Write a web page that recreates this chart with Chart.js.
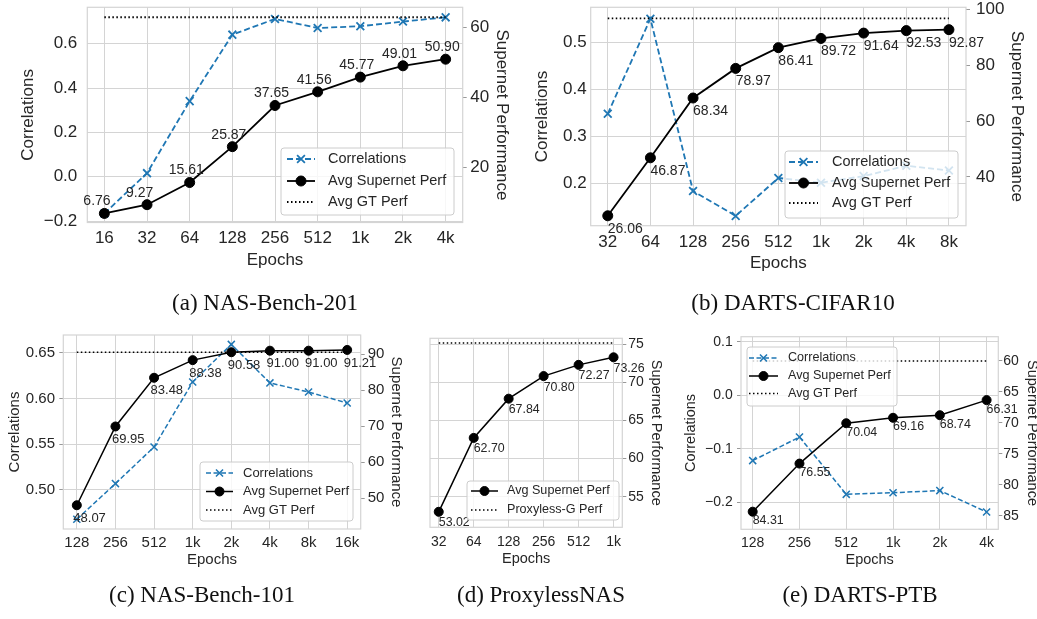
<!DOCTYPE html>
<html>
<head>
<meta charset="utf-8">
<script src="https://cdn.jsdelivr.net/npm/chart.js@4/dist/chart.umd.min.js"></script>
<style>
body { margin: 0; background: #fff; width: 1037px; height: 619px; position: relative; overflow: hidden; }
canvas { position: absolute; left: 0; top: 0; }
.cap { position: absolute; font-family: "Liberation Serif", "Times New Roman", serif; font-size: 23px; color: #111;
       transform: translate(-50%, -50%); white-space: nowrap; }
</style>
</head>
<body>
<canvas id="cA" width="1037" height="619"></canvas>
<canvas id="cB" width="1037" height="619"></canvas>
<canvas id="cC" width="1037" height="619"></canvas>
<canvas id="cD" width="1037" height="619"></canvas>
<canvas id="cE" width="1037" height="619"></canvas>
<div class="cap" style="left:265px;top:303px">(a) NAS-Bench-201</div>
<div class="cap" style="left:793px;top:303px">(b) DARTS-CIFAR10</div>
<div class="cap" style="left:202px;top:595px">(c) NAS-Bench-101</div>
<div class="cap" style="left:541px;top:595px">(d) ProxylessNAS</div>
<div class="cap" style="left:860px;top:595px">(e) DARTS-PTB</div>
<script>
// (a) NAS-Bench-201
const epochsA = ['16', '32', '64', '128', '256', '512', '1k', '2k', '4k'];
const corrA = [-0.166, 0.016, 0.341, 0.641, 0.712, 0.671, 0.679, 0.700, 0.719];
const perfA = [6.76, 9.27, 15.61, 25.87, 37.65, 41.56, 45.77, 49.01, 50.90];
const gtA = 62.9;
const corrTicksA = [-0.2, 0, 0.2, 0.4, 0.6];
const perfTicksA = [20, 40, 60];

// (b) DARTS-CIFAR10
const epochsB = ['32', '64', '128', '256', '512', '1k', '2k', '4k', '8k'];
const corrB = [0.348, 0.551, 0.183, 0.130, 0.211, 0.201, 0.215, 0.237, 0.227];
const perfB = [26.06, 46.87, 68.34, 78.97, 86.41, 89.72, 91.64, 92.53, 92.87];
const gtB = 96.9;
const corrTicksB = [0.2, 0.3, 0.4, 0.5];
const perfTicksB = [40, 60, 80, 100];

// (c) NAS-Bench-101
const epochsC = ['128', '256', '512', '1k', '2k', '4k', '8k', '16k'];
const corrC = [0.468, 0.507, 0.547, 0.618, 0.659, 0.617, 0.607, 0.595];
const perfC = [48.07, 69.95, 83.48, 88.38, 90.58, 91.00, 91.00, 91.21];
const gtC = 90.6;
const corrTicksC = [0.50, 0.55, 0.60, 0.65];
const perfTicksC = [50, 60, 70, 80, 90];

// (d) ProxylessNAS
const epochsD = ['32', '64', '128', '256', '512', '1k'];
const perfD = [53.02, 62.70, 67.84, 70.80, 72.27, 73.26];
const gtD = 75.15;
const perfTicksD = [55, 60, 65, 70, 75];

// (e) DARTS-PTB
const epochsE = ['128', '256', '512', '1k', '2k', '4k'];
const corrE = [-0.122, -0.078, -0.185, -0.182, -0.178, -0.218];
const perfE = [84.31, 76.55, 70.04, 69.16, 68.74, 66.31];
const gtE = 60.0;
const corrTicksE = [-0.2, -0.1, 0, 0.1];
const perfTicksE = [60, 65, 70, 75, 80, 85];

const FAM = '"Liberation Sans", Arial, sans-serif';
const TXT = '#262626';
const GRID = '#d4d4d4';
const BLUE = '#1f77b4';

function zeroPad(s) {
  s.paddingTop = 0; s.paddingBottom = 0; s.paddingLeft = 0; s.paddingRight = 0;
}

function drawMarker(ctx, style, x, y, r, color, bw) {
  ctx.save();
  ctx.strokeStyle = color; ctx.fillStyle = color; ctx.lineWidth = bw;
  ctx.setLineDash([]);
  ctx.beginPath();
  if (style === 'circle') {
    ctx.arc(x, y, r, 0, Math.PI * 2);
    ctx.fill(); ctx.stroke();
  } else {
    const o = r * Math.SQRT1_2;
    ctx.moveTo(x - o, y - o); ctx.lineTo(x + o, y + o);
    ctx.moveTo(x - o, y + o); ctx.lineTo(x + o, y - o);
    ctx.stroke();
  }
  ctx.restore();
}

const panelPlugin = {
  id: 'panel',
  beforeDatasetsDraw(chart) {
    const a = chart.chartArea, ctx = chart.ctx;
    ctx.save();
    ctx.strokeStyle = GRID; ctx.lineWidth = 1.2;
    ctx.strokeRect(a.left, a.top, a.right - a.left, a.bottom - a.top);
    ctx.restore();
  },
  afterDatasetsDraw(chart, args, p) {
    const ctx = chart.ctx;
    const ds = chart.data.datasets;
    // value labels on the supernet line
    const meta = chart.getDatasetMeta(0);
    ctx.save();
    ctx.fillStyle = TXT;
    ctx.font = p.labelSize + 'px ' + FAM;
    ctx.textAlign = 'left'; ctx.textBaseline = 'middle';
    meta.data.forEach((pt, i) => {
      ctx.fillText(ds[0].data[i].y.toFixed(2), pt.x + p.labelDx, pt.y + p.labelDy);
    });
    ctx.restore();
    // legend
    const L = p.legend;
    ctx.save();
    ctx.fillStyle = 'rgba(255,255,255,0.8)';
    ctx.strokeStyle = '#cccccc'; ctx.lineWidth = 1;
    ctx.beginPath();
    ctx.roundRect(L.x0, L.y0, L.x1 - L.x0, L.y1 - L.y0, 3);
    ctx.fill(); ctx.stroke();
    const order = ds.length === 3 ? [2, 0, 1] : [0, 1];
    order.forEach((k, row) => {
      const d = ds[k];
      const y = L.rows[row];
      ctx.strokeStyle = d.borderColor; ctx.lineWidth = d.borderWidth;
      ctx.setLineDash(d.borderDash || []);
      ctx.beginPath(); ctx.moveTo(L.sx0, y); ctx.lineTo(L.sx1, y); ctx.stroke();
      ctx.setLineDash([]);
      if (d.pointRadius > 0) {
        drawMarker(ctx, d.pointStyle, (L.sx0 + L.sx1) / 2, y, d.pointRadius, d.borderColor, d.pointBorderWidth);
      }
      ctx.fillStyle = TXT;
      ctx.font = L.size + 'px ' + FAM;
      ctx.textAlign = 'left'; ctx.textBaseline = 'middle';
      ctx.fillText(d.label, L.tx, y);
    });
    ctx.restore();
  }
};

function makePanel(id, p) {
  const n = p.epochs.length;
  const m = 0.05 * (n - 1);
  const pts = arr => arr.map((v, i) => ({ x: i, y: v }));
  const datasets = [
    { label: 'Avg Supernet Perf', data: pts(p.perf), yAxisID: 'yR', order: 0,
      borderColor: '#000', backgroundColor: '#000', borderWidth: p.lw,
      pointStyle: 'circle', pointRadius: p.mr, pointBackgroundColor: '#000', pointBorderWidth: 1 },
    { label: p.gtLabel, data: pts(p.perf.map(() => p.gt)), yAxisID: 'yR', order: 1,
      borderColor: '#000', borderWidth: p.lw, borderDash: [1.5, 2.5], pointRadius: 0 }
  ];
  if (p.corr) {
    datasets.push({ label: 'Correlations', data: pts(p.corr), yAxisID: 'yL', order: 2,
      borderColor: BLUE, backgroundColor: BLUE, borderWidth: p.lw, borderDash: p.dash,
      pointStyle: 'crossRot', pointRadius: p.xr, pointBorderWidth: p.lw });
  }
  datasets.forEach(d => { d.clip = false; d.tension = 0; d.fill = false; d.pointHoverRadius = d.pointRadius; });

  const tickFont = { family: FAM, size: p.ts };
  const titleFont = { family: FAM, size: p.tt };
  const scales = {
    x: {
      type: 'linear', min: -m, max: n - 1 + m,
      afterBuildTicks: s => { s.ticks = p.epochs.map((_, i) => ({ value: i })); },
      ticks: { callback: v => p.epochs[v], autoSkip: false, maxRotation: 0, padding: p.xPad, color: TXT, font: tickFont },
      grid: { color: GRID, drawTicks: false },
      border: { display: false },
      title: { display: true, text: 'Epochs', padding: 0, color: TXT, font: titleFont },
      afterFit: s => { s.height = p.hx; zeroPad(s); }
    },
    yR: {
      position: 'right', min: p.rMin, max: p.rMax, reverse: !!p.rReverse,
      afterBuildTicks: s => { s.ticks = p.perfTicks.map(v => ({ value: v })); },
      ticks: { callback: v => String(v), padding: p.rPad, color: TXT, font: tickFont },
      grid: { color: GRID, drawOnChartArea: !p.corr, drawTicks: true, tickLength: 4, tickColor: '#999' },
      border: { display: false },
      title: { display: true, text: 'Supernet Performance', padding: 0, color: TXT, font: titleFont },
      afterFit: s => { s.width = p.wr; zeroPad(s); }
    }
  };
  if (p.corr) {
    scales.yL = {
      position: 'left', min: p.lMin, max: p.lMax,
      afterBuildTicks: s => { s.ticks = p.corrTicks.map(v => ({ value: v })); },
      ticks: { callback: v => v.toFixed(p.dec).replace('-', '\u2212'), padding: p.lPad, color: TXT, font: tickFont },
      grid: { color: GRID, drawTicks: p.lTick > 0, tickLength: p.lTick, tickColor: '#999' },
      border: { display: false },
      title: { display: true, text: 'Correlations', padding: 0, color: TXT, font: titleFont },
      afterFit: s => { s.width = p.wl; zeroPad(s); }
    };
  }
  new Chart(document.getElementById(id), {
    type: 'line',
    data: { datasets },
    options: {
      responsive: false, animation: false, events: [],
      layout: { padding: p.pad },
      scales,
      plugins: {
        legend: { display: false }, tooltip: { enabled: false },
        panel: { labelDx: p.labelDx, labelDy: p.labelDy, labelSize: p.labelSize, legend: p.legend }
      }
    },
    plugins: [panelPlugin]
  });
}

makePanel('cA', {
  epochs: epochsA, corr: corrA, perf: perfA, gt: gtA, gtLabel: 'Avg GT Perf',
  corrTicks: corrTicksA, perfTicks: perfTicksA, dec: 1,
  lMin: -0.2067, lMax: 0.7644, rMin: 4.17, rMax: 65.75,
  ts: 17, tt: 17, lw: 1.8, mr: 5, xr: 5.5, dash: [6, 3],
  pad: { left: 17.8, right: 524.8, top: 4, bottom: 348.8 },
  wl: 69.5, wr: 49.5, hx: 47.7, lPad: 10, lTick: 0, rPad: 3.5, xPad: 6,
  labelDx: -21, labelDy: -12, labelSize: 14,
  legend: { x0: 281, y0: 148, x1: 454, y1: 215, rows: [159, 181, 202], sx0: 287, sx1: 315, tx: 328, size: 14.5 }
});

makePanel('cB', {
  epochs: epochsB, corr: corrB, perf: perfB, gt: gtB, gtLabel: 'Avg GT Perf',
  corrTicks: corrTicksB, perfTicks: perfTicksB, dec: 1,
  lMin: 0.1091, lMax: 0.5754, rMin: 22.5, rMax: 100.9,
  ts: 17, tt: 17, lw: 1.8, mr: 5, xr: 5.5, dash: [6, 3],
  pad: { left: 532.5, right: 10.1, top: 5, bottom: 345.5 },
  wl: 58.2, wr: 60.9, hx: 47.8, lPad: 4, lTick: 0, rPad: 6, xPad: 6,
  labelDx: 0, labelDy: 13, labelSize: 14,
  legend: { x0: 785, y0: 151, x1: 958, y1: 218, rows: [162, 183, 203], sx0: 789, sx1: 818, tx: 832, size: 14.5 }
});

makePanel('cC', {
  epochs: epochsC, corr: corrC, perf: perfC, gt: gtC, gtLabel: 'Avg GT Perf',
  corrTicks: corrTicksC, perfTicks: perfTicksC, dec: 2,
  lMin: 0.4574, lMax: 0.6693, rMin: 41.47, rMax: 95.36,
  ts: 15, tt: 15, lw: 1.5, mr: 4.5, xr: 5, dash: [5, 2.5],
  pad: { left: 6, right: 632.3, top: 335, bottom: 50 },
  wl: 57.3, wr: 44, hx: 40, lPad: 4.3, lTick: 4, rPad: 3, xPad: 5.3,
  labelDx: -3.5, labelDy: 13, labelSize: 13,
  legend: { x0: 200, y0: 462, x1: 353, y1: 521, rows: [473, 491.5, 510], sx0: 206, sx1: 233, tx: 243, size: 13 }
});

makePanel('cD', {
  epochs: epochsD, perf: perfD, gt: gtD, gtLabel: 'Proxyless-G Perf',
  perfTicks: perfTicksD,
  rMin: 50.99, rMax: 75.75,
  ts: 14, tt: 14.5, lw: 1.5, mr: 4.5, xr: 5, dash: [5, 2.5],
  pad: { left: 430, right: 372.3, top: 338.3, bottom: 51 },
  wr: 42.4, hx: 40.7, rPad: 2, xPad: 6,
  labelDx: 0, labelDy: 11, labelSize: 12.4,
  legend: { x0: 467, y0: 481, x1: 619, y1: 520, rows: [491, 510], sx0: 471, sx1: 498, tx: 507, size: 12.6 }
});

makePanel('cE', {
  epochs: epochsE, corr: corrE, perf: perfE, gt: gtE, gtLabel: 'Avg GT Perf',
  corrTicks: corrTicksE, perfTicks: perfTicksE, dec: 1,
  lMin: -0.2503, lMax: 0.1093, rMin: 56.08, rMax: 87.15, rReverse: true,
  ts: 14, tt: 14.5, lw: 1.5, mr: 4.5, xr: 5, dash: [5, 2.5],
  pad: { left: 682.3, right: -3.7, top: 336.7, bottom: 50.3 },
  wl: 58.7, wr: 42.4, hx: 39.4, lPad: 4.3, lTick: 4, rPad: 1, xPad: 5.6,
  labelDx: 0, labelDy: 9, labelSize: 12.4,
  legend: { x0: 747, y0: 347, x1: 897, y1: 406, rows: [358, 376, 393.5], sx0: 749, sx1: 778, tx: 788, size: 12.6 }
});
</script>
</body>
</html>
